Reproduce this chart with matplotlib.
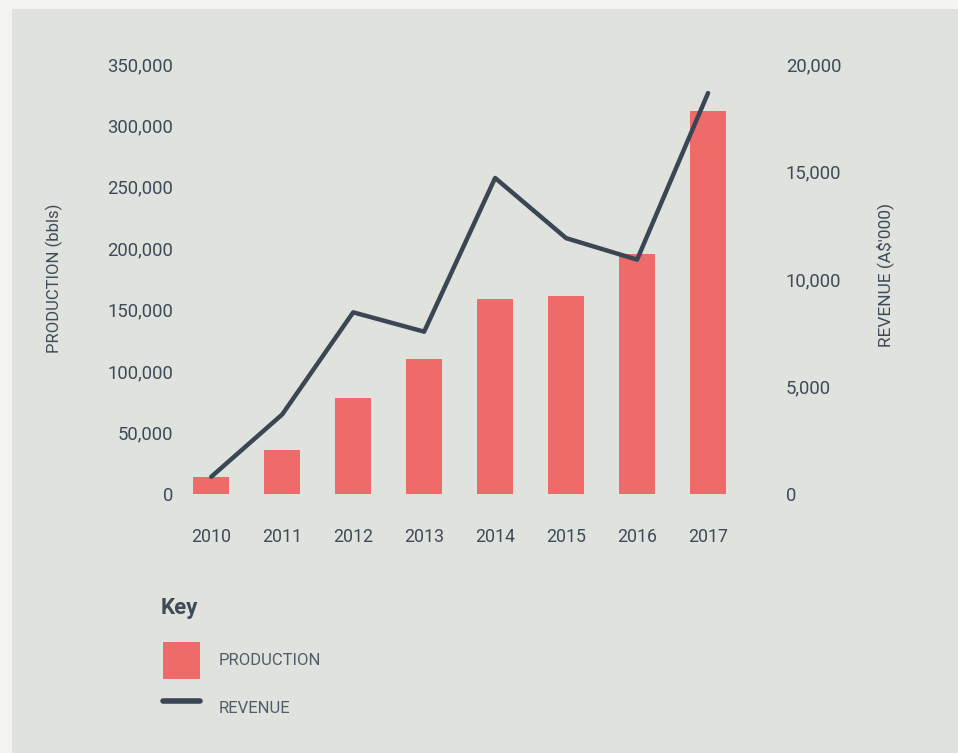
# Import libraries
import matplotlib
matplotlib.use("Agg")
import matplotlib.pyplot as plt
from matplotlib.patches import Rectangle, Patch
from matplotlib.lines import Line2D
from matplotlib.ticker import FuncFormatter

# Declare data
years = ["2010", "2011", "2012", "2013", "2014", "2015", "2016", "2017"]
production = [14000, 36000, 78000, 110000, 159000, 161000, 195000, 312000]
revenue = [800, 3700, 8450, 7550, 14700, 11900, 10900, 18650]
production_ticks = [0, 50000, 100000, 150000, 200000, 250000, 300000, 350000]
revenue_ticks = [0, 5000, 10000, 15000, 20000]

# Declare styles
BAR_COLOR = "#ee6b69"
LINE_COLOR = "#3b4655"
TEXT_COLOR = "#3f4a59"
KEY_COLOR = "#525c69"
PANEL_COLOR = "#e0e2de"
OUTER_COLOR = "#f3f3ef"
W, H = 958, 753

plt.rcParams["font.family"] = ["Roboto", "DejaVu Sans"]

fig = plt.figure(figsize=(W / 100, H / 100), dpi=100)
fig.patch.set_facecolor(OUTER_COLOR)
fig.add_artist(Rectangle((12 / W, 0), 1, (H - 9) / H, transform=fig.transFigure,
                         facecolor=PANEL_COLOR, edgecolor="none", zorder=-10))

## Main axes
ax = fig.add_axes([180 / W, (H - 494) / H, 560 / W, 430 / H])
ax.patch.set_visible(False)
x = list(range(len(years)))
ax.bar(x, production, width=0.5, color=BAR_COLOR, zorder=2)
ax.set_xlim(-0.44, 7.45)
ax.set_ylim(0, 350000)
ax.set_yticks(production_ticks)
ax.yaxis.set_major_formatter(FuncFormatter(lambda v, p: f"{v:,.0f}"))
ax.set_xticks(x, years)
ax.tick_params(axis="y", length=0, pad=5, labelsize=13.3, labelcolor=TEXT_COLOR)
ax.tick_params(axis="x", length=0, pad=24.5, labelsize=12.8, labelcolor=TEXT_COLOR)
for s in ax.spines.values():
    s.set_visible(False)

## Revenue axes
ax2 = ax.twinx()
ax2.plot(x, revenue, color=LINE_COLOR, lw=3.2, solid_capstyle="round",
         solid_joinstyle="round", zorder=3)
ax2.set_ylim(0, 20000)
ax2.set_yticks(revenue_ticks)
ax2.yaxis.set_major_formatter(FuncFormatter(lambda v, p: f"{v:,.0f}"))
ax2.tick_params(axis="y", length=0, pad=33, labelsize=13.3, labelcolor=TEXT_COLOR)
for s in ax2.spines.values():
    s.set_visible(False)

## Axis titles
fig.text(54 / W, 1 - 278 / H, "PRODUCTION (bbls)", rotation=90, ha="center",
         va="center", fontsize=12, color=TEXT_COLOR)
fig.text(885 / W, 1 - 275 / H, "REVENUE (A$'000)", rotation=90, ha="center",
         va="center", fontsize=12.5, color=TEXT_COLOR)

## Key
fig.text(161 / W, 1 - 608 / H, "Key", ha="left", va="center", fontsize=16,
         fontweight="bold", color=TEXT_COLOR)
handles = [Patch(facecolor=BAR_COLOR, edgecolor="none"),
           Line2D([], [], color=LINE_COLOR, lw=4, solid_capstyle="round")]
leg = fig.legend(handles, ["PRODUCTION", "REVENUE"], loc="upper left",
                 bbox_to_anchor=(163 / W, 1 - 642 / H), frameon=False,
                 fontsize=12, handlelength=2.2, handleheight=3.05,
                 handletextpad=1.15, labelspacing=0.62, borderaxespad=0,
                 borderpad=0)
for t in leg.get_texts():
    t.set_color(KEY_COLOR)

fig.savefig("out.png", dpi=100, facecolor=fig.get_facecolor())
